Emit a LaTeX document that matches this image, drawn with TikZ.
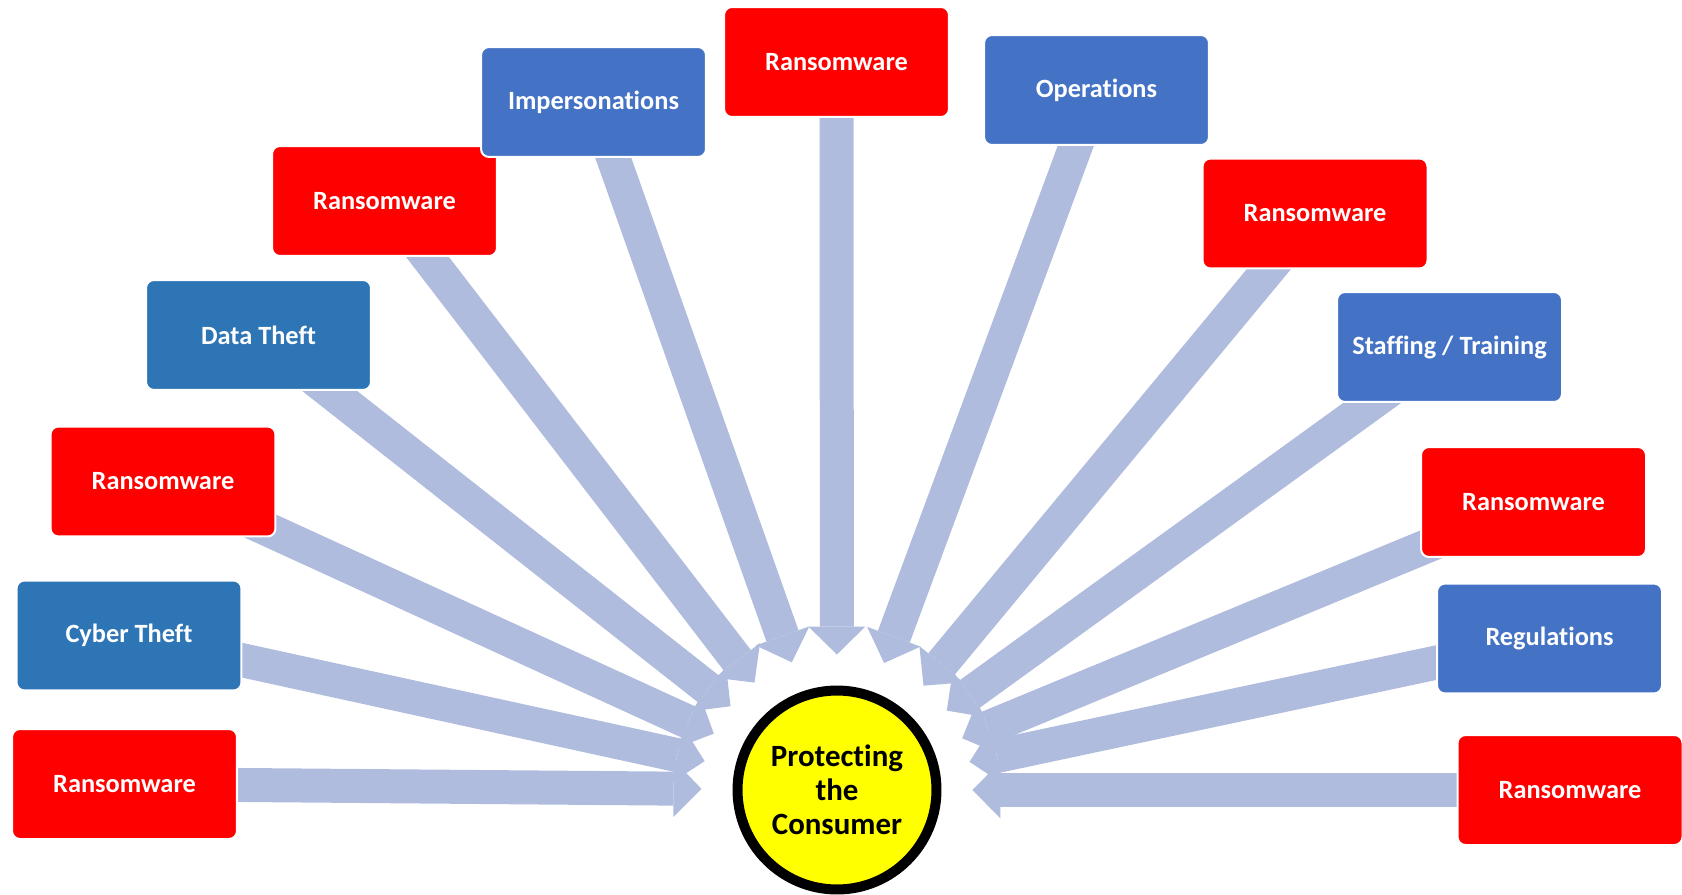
\documentclass[tikz,border=0pt]{standalone}
\usepackage{fontspec}
\setmainfont{Carlito}[Ligatures=NoCommon]
\usepackage{tikz}
\usetikzlibrary{arrows.meta,backgrounds}
\usepackage{xcolor}
\definecolor{alarm}{HTML}{FF0000}
\definecolor{plain}{HTML}{4472C4}
\definecolor{deep}{HTML}{2E75B6}
\definecolor{flow}{HTML}{B0BCDE}
\definecolor{hubfill}{HTML}{FFFF00}

\begin{document}
\begin{tikzpicture}[x=0.02cm,y=-0.02cm,
    box/.style={rectangle, rounded corners=0.16cm, minimum width=4.5cm, minimum height=2.2cm,
      draw=white, line width=0.04cm, text=white, font=\fontsize{15}{18}\selectfont\bfseries},
    feed/.style={flow, line width=0.68cm, shorten >=0.62cm,
      -{Triangle[width=1.14cm,length=0.56cm,line width=0pt]}}]
        \useasboundingbox (0,0) rectangle (1682,895);
        \node[circle, fill=hubfill, draw=black, line width=0.2cm, minimum size=3.98cm, align=center,
          font=\fontsize{17.6}{19.4}\selectfont\bfseries] (hub) at (837,790) {Protecting\\the\\Consumer};
        \node[box, fill=alarm] (ransA) at (124.5,784) {Ransomware};
        \node[box, fill=deep]  (cyber) at (129,635.5) {Cyber Theft};
        \node[box, fill=alarm] (ransB) at (163,481.5) {Ransomware};
        \node[box, fill=deep]  (data) at (258.5,335) {Data Theft};
        \node[box, fill=alarm] (ransC) at (384.5,201) {Ransomware};
        \node[box, fill=plain] (imperson) at (593.5,102) {Impersonations};
        \node[box, fill=alarm] (ransD) at (836.5,62) {Ransomware};
        \node[box, fill=plain] (ops) at (1096.5,90) {Operations};
        \node[box, fill=alarm] (ransE) at (1315,213.5) {Ransomware};
        \node[box, fill=plain] (staff) at (1449.5,347) {Staffing / Training};
        \node[box, fill=alarm] (ransF) at (1533.5,502) {Ransomware};
        \node[box, fill=plain] (regs) at (1549.5,638.5) {Regulations};
        \node[box, fill=alarm] (ransG) at (1570,790) {Ransomware};
        \begin{scope}[on background layer]
          \foreach \src in {ransA,cyber,ransB,data,ransC,imperson,ransD,ops,ransE,staff,ransF,regs,ransG}
            \draw[feed] (\src.center) -- (hub);
        \end{scope}
      \end{tikzpicture}
\end{document}
